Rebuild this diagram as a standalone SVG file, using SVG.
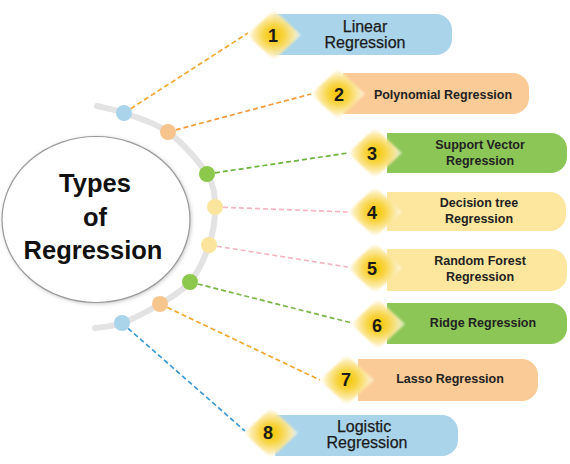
<svg xmlns="http://www.w3.org/2000/svg" width="570" height="464" viewBox="0 0 570 464">
<defs>
<radialGradient id="dg" cx="0.5" cy="0.5" r="0.5">
<stop offset="0" stop-color="#f5c400"/>
<stop offset="0.4" stop-color="#f8d545"/>
<stop offset="0.78" stop-color="#fcecb0" stop-opacity="0.9"/>
<stop offset="1" stop-color="#ffffff" stop-opacity="0.55"/>
</radialGradient>
<filter id="sh" x="-10%" y="-10%" width="120%" height="120%">
<feGaussianBlur stdDeviation="2"/>
</filter>
<filter id="soft" x="-20%" y="-20%" width="140%" height="140%">
<feGaussianBlur stdDeviation="1.3"/>
</filter>
<style>
.arc{fill:none;stroke:#e3e3e3;stroke-width:6;stroke-linecap:round}
.con{fill:none;stroke-width:1.7;stroke-dasharray:5 3}
.dm{fill:url(#dg);filter:url(#soft)}
.num{font-family:"Liberation Sans",Arial,sans-serif;font-weight:bold;font-size:18px;fill:#1a1a1a;text-anchor:middle}
.lb{font-family:"Liberation Sans",Arial,sans-serif;font-weight:bold;font-size:12.5px;fill:#222;text-anchor:middle}
.lr{font-family:"Liberation Sans",Arial,sans-serif;font-size:16px;fill:#1a1a1a;text-anchor:middle;stroke:#1a1a1a;stroke-width:0.25}
.ttl{font-family:"Liberation Sans",Arial,sans-serif;font-weight:bold;font-size:25.5px;fill:#111;text-anchor:middle}
.blue{fill:#a9d4ea}.orange{fill:#fbcb97}.green{fill:#8cc657}.yellow{fill:#fde79f}
</style>
</defs>
<rect width="570" height="464" fill="#ffffff"/>

<g id="center">
<ellipse cx="97" cy="220.5" rx="94" ry="83" fill="#bdbdbd" filter="url(#sh)"/>
<ellipse cx="96" cy="219.5" rx="94" ry="83" fill="#ffffff" stroke="#9a9a9a" stroke-width="1.2"/>
<text class="ttl" x="95" y="192">Types</text>
<text class="ttl" x="95" y="225.5">of</text>
<text class="ttl" x="93" y="259">Regression</text>
</g>

<path id="arc" class="arc" d="M97 106 C101.5 107.2 112.2 108.7 124 113 C135.8 117.3 154.2 121.8 168 132 C181.8 142.2 199.2 161.5 207 174 C214.8 186.5 214.7 195.2 215 207 C215.3 218.8 213.2 232.5 209 245 C204.8 257.5 198.2 272.2 190 282 C181.8 291.8 171.3 297.2 160 304 C148.7 310.8 132.8 319 122 323 C111.2 327 99.5 327.2 95 328"/>

<g id="connectors">
<line class="con" x1="124" y1="113" x2="248" y2="33" stroke="#f0a830"/>
<line class="con" x1="168" y1="132" x2="311" y2="94" stroke="#f39a3a"/>
<line class="con" x1="207" y1="174" x2="348" y2="153" stroke="#6db33f"/>
<line class="con" x1="215" y1="207" x2="348" y2="212" stroke="#f5b5c0"/>
<line class="con" x1="209" y1="245" x2="348" y2="267" stroke="#f5b5c0"/>
<line class="con" x1="190" y1="282" x2="352" y2="323" stroke="#7ab648"/>
<line class="con" x1="160" y1="304" x2="320" y2="380" stroke="#f0a830"/>
<line class="con" x1="122" y1="323" x2="245" y2="431" stroke="#3b9ad4"/>
</g>

<g id="dots">
<circle cx="124" cy="113" r="8" class="blue"/>
<circle cx="168" cy="132" r="8" fill="#f6c58e"/>
<circle cx="207" cy="174" r="8" fill="#8cc84b"/>
<circle cx="215" cy="207" r="8" fill="#fbe59c"/>
<circle cx="209" cy="245" r="8" fill="#fbe59c"/>
<circle cx="190" cy="282" r="8" fill="#8cc84b"/>
<circle cx="160" cy="304" r="8" fill="#f6c58e"/>
<circle cx="122" cy="323" r="8" class="blue"/>
</g>

<g id="item1">
<path class="blue" d="M273 14 H436 A16 16 0 0 1 452 30 V39 A16 16 0 0 1 436 55 H273 Z"/>
<polygon class="dm" points="247,35 274,10 301,35 274,60"/>
<text class="num" x="273" y="42">1</text>
<text class="lr" x="365" y="32">Linear</text>
<text class="lr" x="365" y="48">Regression</text>
</g>

<g id="item2">
<path class="orange" d="M343 73 H513 A16 16 0 0 1 529 89 V98 A16 16 0 0 1 513 114 H343 Z"/>
<polygon class="dm" points="311,94 338,69 365,94 338,119"/>
<text class="num" x="339" y="101">2</text>
<text class="lb" x="443" y="98.5">Polynomial Regression</text>
</g>

<g id="item3">
<path class="green" d="M387 133 H551 A16 16 0 0 1 567 149 V157 A16 16 0 0 1 551 173 H387 Z"/>
<polygon class="dm" points="348,153 375,128 402,153 375,178"/>
<text class="num" x="372" y="160">3</text>
<text class="lb" x="480" y="149">Support Vector</text>
<text class="lb" x="480" y="165">Regression</text>
</g>

<g id="item4">
<path class="yellow" d="M387 192 H550 A16 16 0 0 1 566 208 V215 A16 16 0 0 1 550 231 H387 Z"/>
<polygon class="dm" points="348,212 375,187 402,212 375,237"/>
<text class="num" x="372" y="219">4</text>
<text class="lb" x="479" y="207">Decision tree</text>
<text class="lb" x="479" y="223">Regression</text>
</g>

<g id="item5">
<path class="yellow" d="M387 249 H551 A16 16 0 0 1 567 265 V275 A16 16 0 0 1 551 291 H387 Z"/>
<polygon class="dm" points="348,268 375,243 402,268 375,293"/>
<text class="num" x="372" y="275">5</text>
<text class="lb" x="480" y="264.5">Random Forest</text>
<text class="lb" x="480" y="280.5">Regression</text>
</g>

<g id="item6">
<path class="green" d="M387 303 H551 A16 16 0 0 1 567 319 V328 A16 16 0 0 1 551 344 H387 Z"/>
<polygon class="dm" points="351,324 378,299 405,324 378,349"/>
<text class="num" x="377" y="332">6</text>
<text class="lb" x="483" y="327">Ridge Regression</text>
</g>

<g id="item7">
<path class="orange" d="M358 359 H522 A16 16 0 0 1 538 375 V385 A16 16 0 0 1 522 401 H358 Z"/>
<polygon class="dm" points="320,380 347,355 374,380 347,405"/>
<text class="num" x="346" y="386">7</text>
<text class="lb" x="450" y="382.5">Lasso Regression</text>
</g>

<g id="item8">
<path class="blue" d="M275 415 H442 A16 16 0 0 1 458 431 V440 A16 16 0 0 1 442 456 H275 Z"/>
<polygon class="dm" points="244,433 271,408 298,433 271,458"/>
<text class="num" x="268" y="439">8</text>
<text class="lr" x="364" y="432">Logistic</text>
<text class="lr" x="367" y="448">Regression</text>
</g>
</svg>
